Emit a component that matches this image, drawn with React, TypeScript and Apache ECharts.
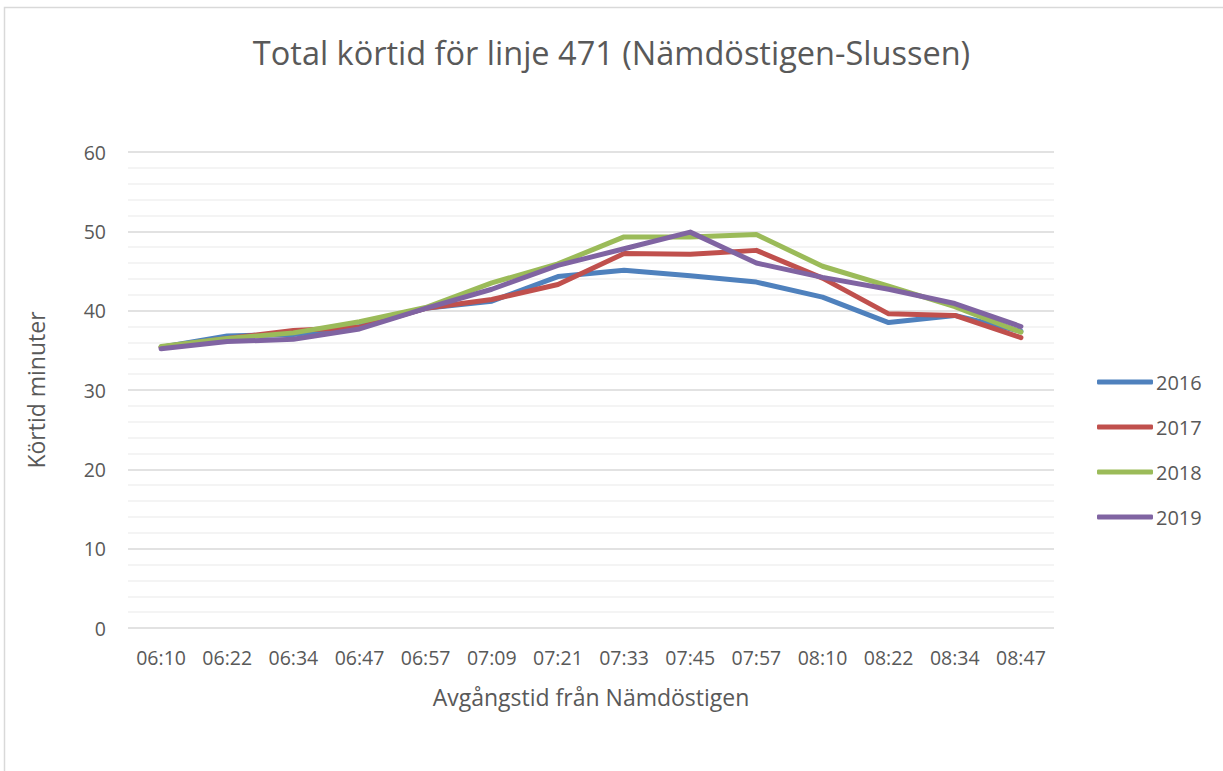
import React, { useEffect, useRef } from "react";
import * as echarts from "echarts";

const categories = ["06:10", "06:22", "06:34", "06:47", "06:57", "07:09", "07:21", "07:33", "07:45", "07:57", "08:10", "08:22", "08:34", "08:47"];
const s2016 = [35.4, 36.8, 37.0, 38.0, 40.3, 41.2, 44.3, 45.1, 44.4, 43.6, 41.7, 38.5, 39.4, 37.4];
const s2017 = [35.4, 36.5, 37.5, 37.9, 40.3, 41.4, 43.3, 47.2, 47.1, 47.6, 44.1, 39.6, 39.4, 36.6];
const s2018 = [35.5, 36.5, 37.2, 38.6, 40.4, 43.5, 45.9, 49.3, 49.3, 49.6, 45.6, 43.1, 40.5, 37.3];
const s2019 = [35.2, 36.1, 36.4, 37.7, 40.3, 42.7, 45.7, 47.8, 49.9, 46.0, 44.2, 42.7, 40.9, 38.0];
const seriesNames = ["2016", "2017", "2018", "2019"];
const colors = ["#4F81BD", "#C0504D", "#9BBB59", "#8064A2"];
const yTicks = { min: 0, max: 60, interval: 10 };

const FONT = "'Open Sans', sans-serif";

export default function App() {
  const ref = useRef<HTMLDivElement>(null);
  useEffect(() => {
    if (!ref.current) return;
    const chart = echarts.init(ref.current, undefined, { renderer: "svg" });
    const data = [s2016, s2017, s2018, s2019];
    chart.setOption({
      animation: false,
      backgroundColor: "#ffffff",
      color: colors,
      title: {
        text: "Total körtid för linje 471 (Nämdöstigen-Slussen)",
        left: "center",
        top: 31,
        textStyle: { fontFamily: FONT, fontSize: 32.5, fontWeight: "normal", color: "#595959" },
      },
      legend: {
        orient: "vertical",
        left: 1092,
        top: 363,
        itemWidth: 56,
        itemHeight: 5,
        itemGap: 17,
        icon: "roundRect",
        textStyle: { fontFamily: FONT, fontSize: 20, color: "#595959", padding: [0, 0, 0, -2], lineHeight: 28 },
        data: seriesNames,
      },
      grid: { left: 128, right: 169, top: 152, bottom: 143, containLabel: false },
      xAxis: {
        type: "category",
        data: categories,
        boundaryGap: true,
        name: "Avgångstid från Nämdöstigen",
        nameLocation: "middle",
        nameGap: 57,
        nameTextStyle: { fontFamily: FONT, fontSize: 23, color: "#595959" },
        axisLine: { show: false },
        axisTick: { show: false },
        axisLabel: { fontFamily: FONT, fontSize: 19.5, color: "#595959", margin: 19 },
      },
      yAxis: {
        type: "value",
        min: yTicks.min,
        max: yTicks.max,
        interval: yTicks.interval,
        name: "Körtid minuter",
        nameLocation: "middle",
        nameGap: 81,
        nameRotate: 90,
        nameTextStyle: { fontFamily: FONT, fontSize: 23, color: "#595959" },
        axisLine: { show: false },
        axisTick: { show: false },
        axisLabel: { fontFamily: FONT, fontSize: 19.5, color: "#595959", margin: 22 },
        splitLine: { show: true, lineStyle: { color: "#d9d9d9", width: 1.5 } },
        minorTick: { show: false, splitNumber: 5 },
        minorSplitLine: { show: true, lineStyle: { color: "#f0f0f0", width: 1.5 } },
      },
      graphic: [
        {
          type: "rect",
          shape: { x: 4.5, y: 7.5, width: 1260, height: 800 },
          style: { fill: "none", stroke: "#d9d9d9", lineWidth: 1.5 },
          silent: true,
        },
      ],
      series: seriesNames.map((n, i) => ({
        name: n,
        type: "line",
        data: data[i],
        symbol: "none",
        lineStyle: { width: 5, color: colors[i], cap: "round", join: "round" },
        itemStyle: { color: colors[i] },
      })),
    });
    return () => chart.dispose();
  }, []);
  return <div ref={ref} style={{ position: "fixed", left: 0, top: 0, width: 1223, height: 771 }} />;
}
